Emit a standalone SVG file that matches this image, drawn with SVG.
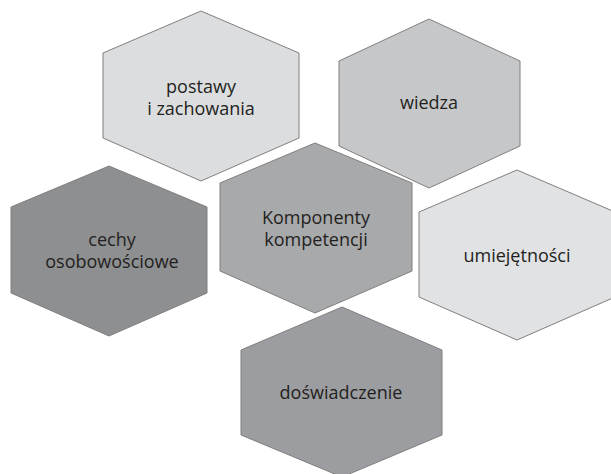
<svg xmlns="http://www.w3.org/2000/svg" width="611" height="474" viewBox="0 0 611 474">
<style>
.hex{stroke:#7f7f7f;stroke-width:1;stroke-linejoin:miter}
.t{font-family:"Open Sans","Liberation Sans",sans-serif;font-size:18px;fill:#231f20;text-anchor:middle}
</style>
<rect width="611" height="474" fill="#ffffff"/>
<g id="postawy">
<polygon class="hex" fill="#dcdddf" points="201,11 299,53 299,138 201,181 103,138 103,53"/>
<text class="t" x="201" y="93">postawy</text>
<text class="t" x="201" y="115">i zachowania</text>
</g>
<g id="wiedza">
<polygon class="hex" fill="#c6c7c9" points="429,19 520,61 520,146 429,188 339,146 339,61"/>
<text class="t" x="429" y="109">wiedza</text>
</g>
<g id="komponenty">
<polygon class="hex" fill="#a8a9ab" points="315,143 412,183 412,271 315,313 220,271 220,183"/>
<text class="t" x="316" y="224">Komponenty</text>
<text class="t" x="316" y="246">kompetencji</text>
</g>
<g id="cechy">
<polygon class="hex" fill="#8e8f91" points="109,166 207,207 207,293 109,336 11,293 11,207"/>
<text class="t" x="112" y="246">cechy</text>
<text class="t" x="112" y="268">osobowościowe</text>
</g>
<g id="umiejetnosci">
<polygon class="hex" fill="#e1e2e4" points="517,170 615,212 615,297 517,340 419,297 419,212"/>
<text class="t" x="517" y="262">umiejętności</text>
</g>
<g id="doswiadczenie">
<polygon class="hex" fill="#9c9da0" points="342,307 442,350 442,435 342,477 241,435 241,350"/>
<text class="t" x="341" y="399">doświadczenie</text>
</g>
<g id="connectors"></g>
</svg>
